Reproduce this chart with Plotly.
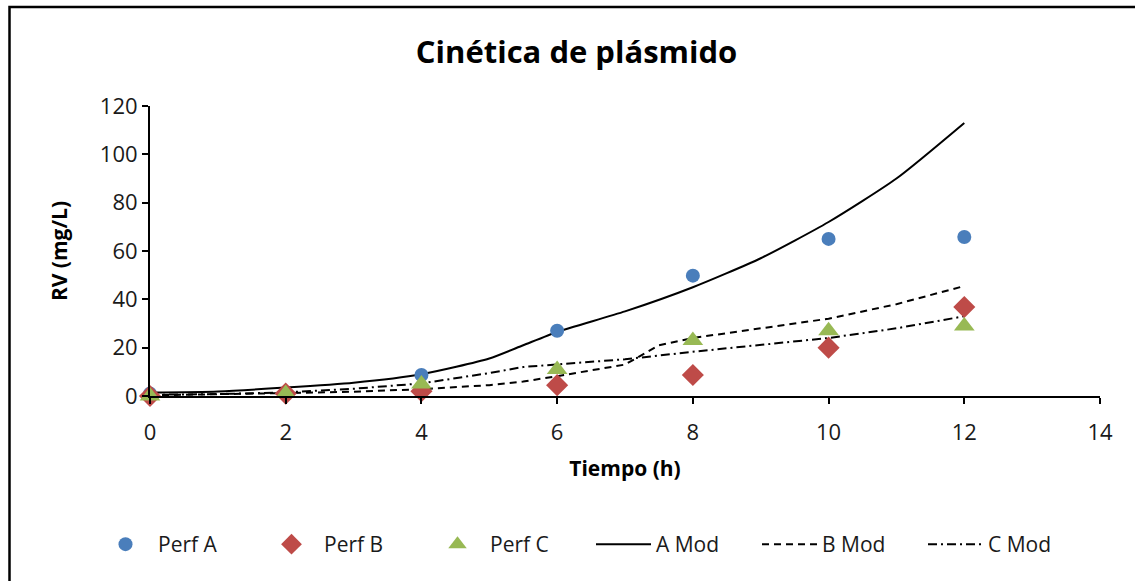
import plotly.graph_objects as go

# Measured data
t_obs = [0, 2, 4, 6, 8, 10, 12]
t_a = [0, 4, 6, 8, 10, 12]
perf_a = [1.0, 8.7, 27.0, 49.8, 65.0, 65.8]
perf_b = [0.0, 1.0, 2.0, 4.5, 8.7, 20.0, 36.8]
perf_c = [0.0, 1.0, 5.0, 11.0, 23.0, 27.0, 29.0]

# Model curves
t_a_mod = [0, 1, 2, 3, 4, 5, 5.5, 6, 7, 8, 9, 10, 11, 12]
a_mod = [1.4, 1.9, 3.5, 5.5, 9.0, 15.5, 21.0, 26.5, 35.0, 45.0, 57.0, 72.0, 90.0, 113.0]
t_b_mod = [0, 1, 2, 3, 4, 5, 5.5, 6, 7, 7.5, 8, 9, 10, 11, 12]
b_mod = [0.3, 0.6, 1.2, 1.8, 2.8, 4.5, 6.0, 8.2, 13.0, 21.0, 24.0, 28.0, 32.0, 38.0, 45.5]
t_c_mod = [0, 1, 2, 3, 4, 5, 5.5, 6, 7, 8, 9, 10, 11, 12]
c_mod = [0.5, 0.8, 1.5, 3.0, 5.2, 9.5, 12.0, 13.0, 15.2, 18.3, 21.0, 24.0, 28.0, 33.0]

x_ticks = [0, 2, 4, 6, 8, 10, 12, 14]
y_ticks = [0, 20, 40, 60, 80, 100, 120]

FONT = "Open Sans"
TXT = "#1a1a1a"

fig = go.Figure()

fig.add_trace(go.Scatter(x=t_a_mod, y=a_mod, mode="lines", name="A Mod",
                         line=dict(color="black", width=2, shape="spline", smoothing=0.6),
                         legendrank=4))
fig.add_trace(go.Scatter(x=t_b_mod, y=b_mod, mode="lines", name="B Mod",
                         line=dict(color="black", width=2, dash="7px,5px"), legendrank=5))
fig.add_trace(go.Scatter(x=t_c_mod, y=c_mod, mode="lines", name="C Mod",
                         line=dict(color="black", width=2, dash="9px,4px,2px,4px"), legendrank=6))

fig.add_trace(go.Scatter(x=t_a, y=perf_a, mode="markers", name="Perf A",
                         marker=dict(symbol="circle", size=14, color="#4A7EBB"),
                         cliponaxis=False, legendrank=1))
fig.add_trace(go.Scatter(x=t_obs, y=perf_b, mode="markers", name="Perf B",
                         marker=dict(symbol="diamond", size=17, color="#BE4B48"),
                         cliponaxis=False, legendrank=2))
fig.add_trace(go.Scatter(x=t_obs, y=perf_c, mode="markers", name="Perf C",
                         marker=dict(symbol="triangle-up", size=18, color="#98B954"),
                         cliponaxis=False, legendrank=3))

W, H = 1135, 581
L, R, T, B = 150, 35, 106, 185
pw, ph = W - L - R, H - T - B

def px_x(p):
    return (p - L) / pw

def px_y(p):
    return (H - B - p) / ph

fig.update_layout(
    width=W, height=H,
    margin=dict(l=L, r=R, t=T, b=B, autoexpand=False),
    paper_bgcolor="white", plot_bgcolor="white",
    font=dict(family=FONT, color=TXT, size=20),
    title=dict(text="<b>Cinética de plásmido</b>", x=0.508, xanchor="center",
               y=1 - 52 / H, yanchor="middle",
               font=dict(family=FONT, size=31, color="black")),
    xaxis=dict(range=[0, 14], tickvals=x_ticks, showgrid=False, zeroline=False,
               showline=True, linecolor="black", linewidth=2,
               ticks="outside", ticklen=6, tickwidth=2, tickcolor="black",
               tickfont=dict(size=22, color=TXT), automargin=False,
               ticklabelstandoff=10,
               title=dict(text="<b>Tiempo (h)</b>", font=dict(size=21, color="black"), standoff=16)),
    yaxis=dict(range=[0, 120], tickvals=y_ticks, showgrid=False, zeroline=False,
               showline=True, linecolor="black", linewidth=2,
               ticks="outside", ticklen=6, tickwidth=2, tickcolor="black",
               tickfont=dict(size=22, color=TXT), automargin=False,
               title=dict(text="<b>RV (mg/L)</b>", font=dict(size=21, color="black"), standoff=26)),
    legend=dict(orientation="h", x=px_x(93), xanchor="left", y=px_y(524), yanchor="top",
                font=dict(size=21, color=TXT), itemwidth=55,
                entrywidth=96, entrywidthmode="pixels", traceorder="normal",
                bgcolor="rgba(0,0,0,0)"),
    shapes=[dict(type="rect", xref="paper", yref="paper",
                 x0=px_x(9.5), x1=px_x(1145), y0=px_y(595), y1=px_y(7),
                 line=dict(color="black", width=2.5), fillcolor="rgba(0,0,0,0)", layer="below")],
)

fig.write_html("out.html")
